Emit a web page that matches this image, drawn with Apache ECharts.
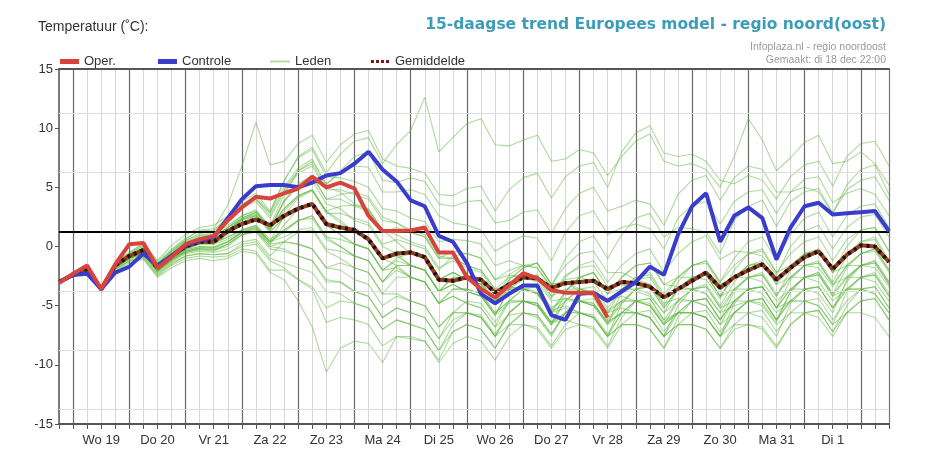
<!DOCTYPE html>
<html><head><meta charset="utf-8">
<script src="https://cdn.jsdelivr.net/npm/echarts@6/dist/echarts.min.js"></script>
<style>html,body{margin:0;padding:0;background:#fff}#c{width:925px;height:473px}</style>
</head><body><div id="c"></div>
<script>
// ---- time axis ----
const dayNames = ['Di 18','Wo 19','Do 20','Vr 21','Za 22','Zo 23','Ma 24','Di 25','Wo 26','Do 27','Vr 28','Za 29','Zo 30','Ma 31','Di 1','Wo 2'];
const hours = ['00:00','06:00','12:00','18:00'];
const tickLabels = ['Wo 19','Do 20','Vr 21','Za 22','Zo 23','Ma 24','Di 25','Wo 26','Do 27','Vr 28','Za 29','Zo 30','Ma 31','Di 1'];
const yTicks = [-15,-10,-5,0,5,10,15];
const baseLevel = 1.25;
const gridLevels = [11.25, 6.25, -3.75, -8.75, -13.75];

// ---- series values (6-hourly) ----
const oper = [-3.1,-2.3,-1.6,-3.6,-1.5,0.2,0.3,-1.8,-0.9,0.2, 0.6,0.9,2.2,3.3,4.2,4.05,4.5,4.9,5.9,5.0,
  5.4,4.9,2.6,1.3,1.3,1.35,1.6,-0.5,-0.5,-2.6, -3.6,-4.3,-3.3,-2.25,-2.7,-3.7,-3.9,-3.9,-3.9,-6.0];
const controle = [-3.0,-2.4,-2.3,-3.6,-2.2,-1.7,-0.6,-1.6,-0.8,0.1, 0.5,0.8,2.4,4.0,5.1,5.2,5.2,5.0,5.4,6.0,
  6.2,7.0,8.0,6.5,5.5,3.9,3.4,0.9,0.4,-1.4, -4.0,-4.8,-4.0,-3.3,-3.3,-5.8,-6.2,-4.0,-3.9,-4.6,
  -3.8,-3.0,-1.7,-2.4,1.0,3.4,4.5,0.4,2.6,3.3, 2.4,-1.1,1.6,3.4,3.7,2.7,2.8,2.9,3.0,1.3];
const gemiddelde = [-3.0,-2.4,-1.9,-3.6,-1.6,-0.8,-0.3,-1.8,-0.8,0.0, 0.4,0.4,1.3,1.9,2.3,1.8,2.6,3.2,3.6,1.9,
  1.6,1.4,0.6,-1.0,-0.6,-0.5,-0.9,-2.8,-2.9,-2.6, -2.8,-3.9,-3.2,-2.6,-2.7,-3.5,-3.1,-3.0,-2.9,-3.6,
  -3.0,-3.1,-3.4,-4.3,-3.6,-2.9,-2.2,-3.5,-2.6,-2.0, -1.5,-2.8,-1.8,-0.9,-0.4,-1.9,-0.7,0.1,0.0,-1.3];
const leden = [
 [-3.1,-2.3,-1.7,-3.5,-1.4,-0.5,0.3,-1.2,0.1,1.0,1.6,1.8, 2.6,3.8,4.5,3.0, 5.5,7.6,8.4,6.2, 7.8,8.9,9.2,7.0, 8.6,9.8,12.6,8.0, 9.2,10.4,10.8,8.6, 8.5,9.0,9.4,7.2, 7.4,8.2,7.9,6.0, 7.6,8.9,9.5,7.2, 6.8,7.0,6.5,5.0, 7.6,10.8,9.0,6.4, 7.5,8.8,9.4,7.0, 7.2,8.0,7.0,5.2],
 [-2.9,-2.5,-2.0,-3.7,-1.7,-0.9,-0.1,-1.5,-0.3,0.6,1.4,1.5, 3.5,6.8,10.5,6.9, 7.2,8.7,9.4,7.1, 8.6,9.5,9.8,7.4, 6.8,6.6,6.2,4.4, 4.3,4.9,5.1,3.0, 4.8,5.8,6.2,4.1, 5.9,6.8,7.1,5.0, 8.0,9.6,10.2,7.9, 7.6,7.8,7.2,5.6, 5.3,6.0,5.6,4.0, 5.9,6.9,7.2,5.1, 7.6,8.7,8.9,6.8],
 [-3.0,-2.4,-1.8,-3.5,-1.5,-0.6,0.1,-1.4,-0.4,0.5,1.1,1.3, 2.5,3.6,4.2,2.9, 5.0,6.6,7.4,5.2, 6.4,7.6,8.0,5.6, 5.4,5.8,5.5,3.6, 3.4,3.8,3.9,2.0, 2.2,2.9,3.1,1.1, 3.2,4.5,5.0,3.0, 3.4,3.9,3.6,1.8, 4.4,5.6,6.0,3.9, 5.8,6.8,6.5,4.6, 4.6,5.0,4.6,2.8, 4.8,5.6,5.9,3.9],
 [-3.1,-2.5,-2.0,-3.8,-1.8,-1.0,-0.5,-1.9,-0.9,0.1,0.6,0.7, 1.6,2.6,3.1,1.7, 4.4,6.4,7.2,5.3, 6.2,6.8,6.7,4.6, 4.6,4.8,4.4,2.6, 2.0,1.8,1.4,-0.4, 0.3,0.9,0.7,-1.2, 1.2,2.6,3.0,1.0, 1.6,1.9,1.5,-0.2, 2.4,3.5,3.8,1.9, 3.8,4.6,4.8,2.8, 4.6,5.7,5.9,3.7, 4.5,4.9,4.4,2.6],
 [-2.9,-2.3,-1.8,-3.6,-1.5,-0.7,-0.2,-1.6,-0.6,0.3,0.8,0.9, 2.2,3.4,4.0,2.8, 5.6,7.5,8.2,5.9, 5.8,5.5,5.0,3.2, 3.0,2.4,2.1,0.4, 0.6,0.5,0.2,-1.6, -1.2,-1.6,-1.8,-3.4, -1.0,0.4,0.9,-1.0, 1.0,2.4,2.8,0.8, 1.6,1.5,1.2,-0.6, 2.2,3.4,3.9,1.7, 3.8,4.6,4.9,2.8, 5.2,6.5,6.9,4.4],
 [-3.0,-2.4,-1.9,-3.6,-1.6,-0.7,-0.1,-1.6,-0.6,0.2,0.7,0.8, 1.6,2.4,2.9,1.5, 3.9,5.2,5.9,4.0, 4.4,4.6,4.2,2.5, 2.0,1.4,1.0,-0.8, -1.0,-1.6,-2.0,-3.6, -2.6,-2.4,-2.7,-4.4, -2.6,-1.6,-1.2,-3.0, -1.6,-0.6,-0.2,-2.2, -0.6,0.4,0.9,-1.1, -0.4,-0.5,-0.8,-2.4, 0.0,1.3,1.8,-0.2, 1.6,2.5,2.7,0.8],
 [-3.1,-2.4,-2.0,-3.7,-1.7,-0.9,-0.4,-1.9,-0.9,-0.1,0.3,0.4, 1.3,2.3,2.8,1.6, 3.2,4.3,4.8,3.0, 3.4,3.5,3.1,1.4, 1.0,0.4,0.0,-1.8, -1.2,-1.8,-2.2,-3.8, -3.4,-3.6,-3.9,-5.4, -3.8,-2.6,-2.2,-4.0, -2.6,-1.6,-1.4,-3.2, -2.6,-2.6,-2.8,-4.4, -2.0,-0.6,-0.2,-2.2, -0.6,0.4,0.8,-1.2, 0.6,1.4,1.6,-0.4],
 [-3.0,-2.3,-1.8,-3.5,-1.4,-0.5,0.2,-1.3,-0.2,0.7,1.3,1.4, 2.4,3.5,4.0,2.6, 4.8,6.4,7.0,5.0, 4.6,3.6,3.2,1.4, 0.4,-0.6,-1.0,-2.8, -2.2,-2.8,-3.2,-4.8, -2.8,-1.8,-1.4,-3.2, -3.0,-3.8,-4.2,-5.6, -3.6,-2.8,-2.6,-4.4, -2.6,-1.6,-1.2,-3.0, -1.0,0.4,0.8,-1.2, 1.0,2.4,2.9,0.8, 2.6,3.4,3.6,1.6],
 [-3.0,-2.4,-1.9,-3.6,-1.6,-0.8,-0.3,-1.7,-0.7,0.1,0.5,0.6, 1.4,2.3,2.6,1.4, 3.8,5.1,5.6,3.6, 3.2,2.2,1.8,0.0, -0.6,-1.6,-2.0,-3.8, -3.2,-3.8,-4.2,-5.8, -3.6,-2.8,-2.4,-4.2, -2.4,-1.8,-1.6,-3.4, -3.2,-3.8,-4.2,-5.6, -3.6,-2.6,-2.4,-4.2, -2.6,-1.6,-1.4,-3.2, -1.6,-0.6,-0.4,-2.2, -0.6,0.4,0.6,-1.4],
 [-2.9,-2.4,-1.9,-3.6,-1.6,-0.8,-0.4,-1.9,-0.9,-0.2,0.2,0.3, 0.8,1.4,1.7,0.4, 2.6,4.1,4.7,2.8, 2.8,2.4,2.0,0.2, 0.6,0.2,-0.2,-2.0, -0.8,-0.6,-1.0,-2.8, -2.0,-1.6,-1.8,-3.6, -2.8,-2.6,-3.0,-4.6, -4.2,-4.6,-5.0,-6.6, -4.6,-3.6,-3.4,-5.2, -3.6,-2.6,-2.4,-4.2, -2.0,-0.6,-0.2,-2.2, 0.0,1.4,1.6,-0.4],
 [-3.0,-2.5,-2.0,-3.7,-1.6,-0.8,-0.2,-1.6,-0.5,0.4,0.9,1.0, 1.8,2.6,3.0,1.6, 3.8,5.3,6.0,4.0, 4.0,3.4,3.0,1.2, 1.6,1.2,0.8,-1.0, -0.4,-0.6,-1.0,-2.8, -2.4,-2.6,-3.0,-4.6, -4.4,-4.6,-5.0,-6.4, -4.8,-3.6,-3.2,-5.0, -3.0,-1.6,-1.2,-3.0, -1.6,-0.6,-0.4,-2.2, -1.6,-1.6,-1.8,-3.4, -1.6,-0.6,-0.2,-2.0],
 [-3.1,-2.4,-1.8,-3.6,-1.5,-0.6,0.0,-1.5,-0.4,0.5,1.0,1.1, 2.2,3.3,3.8,2.4, 4.6,6.2,6.8,4.8, 4.8,4.4,4.0,2.2, 2.0,1.2,0.8,-1.0, -1.0,-1.6,-2.0,-3.6, -3.4,-3.6,-4.0,-5.6, -3.8,-2.6,-2.2,-4.0, -2.6,-1.6,-1.4,-3.2, -3.4,-3.6,-4.0,-5.6, -5.0,-4.6,-4.8,-6.4, -3.8,-2.6,-2.2,-4.0, -1.8,-0.6,-0.2,-2.0],
 [-3.0,-2.4,-1.9,-3.6,-1.6,-0.9,-0.5,-2.0,-1.0,-0.2,0.2,0.2, 1.0,2.0,2.6,1.4, 3.0,4.2,4.8,2.9, 2.0,1.2,0.8,-1.0, -0.4,-0.6,-1.0,-2.8, -2.2,-2.8,-3.2,-4.8, -2.8,-1.8,-1.4,-3.2, -1.6,-0.6,-0.4,-2.2, -2.2,-2.8,-3.2,-4.8, -4.4,-4.6,-5.0,-6.6, -4.6,-3.6,-3.4,-5.2, -2.8,-1.6,-1.2,-3.0, -0.8,0.4,0.8,-1.2],
 [-3.0,-2.4,-2.0,-3.7,-1.7,-1.0,-0.6,-2.1,-1.1,-0.4,-0.1,-0.1, 0.4,1.2,1.5,0.2, 1.8,3.2,3.6,1.8, 1.8,1.2,0.8,-1.0, -0.8,-1.6,-2.0,-3.8, -3.2,-3.8,-4.2,-5.8, -4.8,-4.6,-5.0,-6.6, -4.6,-3.6,-3.4,-5.2, -3.6,-2.6,-2.4,-4.2, -3.6,-3.6,-4.0,-5.6, -3.6,-2.6,-2.4,-4.2, -2.6,-1.6,-1.4,-3.2, -1.6,-0.6,-0.4,-2.2],
 [-2.9,-2.3,-1.9,-3.6,-1.6,-0.8,-0.3,-1.8,-0.8,0.0,0.4,0.5, 1.2,2.2,2.6,1.2, 2.4,3.2,3.6,1.8, 1.0,0.2,-0.2,-2.0, -1.8,-2.6,-3.0,-4.8, -4.2,-4.8,-5.2,-6.8, -4.6,-3.6,-3.4,-5.2, -4.4,-4.6,-5.0,-6.6, -5.6,-5.6,-6.0,-7.6, -5.0,-3.6,-3.2,-5.0, -3.0,-1.6,-1.2,-3.0, -1.6,-0.6,-0.4,-2.2, -1.6,-1.6,-1.8,-3.4],
 [-3.0,-2.4,-1.9,-3.7,-1.7,-0.9,-0.5,-1.9,-0.9,-0.1,0.3,0.3, 0.8,1.4,1.8,0.6, 1.4,2.2,2.6,0.8, 0.6,0.2,-0.2,-2.0, -1.2,-1.6,-2.0,-3.8, -2.6,-2.6,-3.0,-4.6, -3.6,-3.6,-4.0,-5.6, -5.2,-5.6,-6.0,-7.6, -5.6,-4.6,-4.4,-6.2, -5.6,-5.6,-6.0,-7.6, -4.8,-3.6,-3.4,-5.2, -3.6,-2.6,-2.4,-4.2, -2.6,-1.6,-1.4,-3.2],
 [-3.1,-2.5,-2.0,-3.6,-1.5,-0.7,-0.1,-1.6,-0.6,0.3,0.8,0.8, 1.6,2.4,2.9,1.5, 3.2,4.3,4.8,3.0, 2.2,1.2,0.8,-1.0, -1.6,-2.6,-3.0,-4.8, -4.2,-4.8,-5.2,-6.8, -5.8,-5.6,-6.0,-7.6, -5.6,-4.6,-4.4,-6.2, -4.6,-3.6,-3.4,-5.2, -3.6,-2.6,-2.4,-4.2, -3.6,-3.6,-4.0,-5.6, -4.6,-4.6,-5.0,-6.6, -3.8,-2.6,-2.2,-4.0],
 [-3.0,-2.4,-1.9,-3.6,-1.7,-1.0,-0.6,-2.1,-1.2,-0.5,-0.3,-0.4, 0.2,1.2,1.6,0.4, 0.8,1.4,1.6,-0.2, -0.4,-0.8,-1.2,-3.0, -1.6,-1.6,-2.0,-3.8, -3.2,-3.8,-4.2,-5.8, -3.6,-2.6,-2.4,-4.2, -3.6,-3.6,-4.0,-5.6, -4.6,-4.6,-5.0,-6.6, -5.6,-5.6,-6.0,-7.6, -5.6,-4.6,-4.4,-6.2, -3.8,-2.6,-2.2,-4.0, -2.6,-1.6,-1.4,-3.2],
 [-3.0,-2.4,-1.9,-3.6,-1.6,-0.9,-0.4,-1.9,-0.9,-0.1,0.3,0.2, 0.6,1.4,1.8,0.4, 1.4,2.2,2.4,0.6, 0.0,-0.8,-1.2,-3.0, -2.0,-2.6,-3.0,-4.8, -3.6,-3.6,-4.0,-5.6, -4.6,-4.6,-5.0,-6.6, -3.8,-2.6,-2.2,-4.0, -3.6,-3.6,-4.0,-5.6, -4.6,-4.6,-5.0,-6.6, -5.6,-5.6,-6.0,-7.6, -4.8,-3.6,-3.4,-5.2, -3.6,-2.6,-2.4,-4.2],
 [-2.9,-2.3,-1.8,-3.5,-1.5,-0.7,-0.2,-1.7,-0.7,0.2,0.6,0.6, 1.4,2.3,2.7,1.3, 2.4,3.2,3.6,1.8, 1.0,0.2,-0.2,-2.0, -1.0,-0.6,-1.0,-2.8, -2.2,-2.8,-3.2,-4.8, -3.6,-3.6,-4.0,-5.6, -4.6,-4.6,-5.0,-6.6, -3.8,-2.6,-2.2,-4.0, -2.6,-1.6,-1.4,-3.2, -2.6,-2.6,-3.0,-4.6, -3.6,-3.6,-4.0,-5.6, -2.8,-1.6,-1.2,-3.0],
 [-3.0,-2.4,-2.0,-3.7,-1.7,-1.0,-0.5,-2.0,-1.0,-0.3,0.0,0.0, 0.4,1.3,1.6,0.4, 1.2,2.2,2.6,0.8, 0.0,-0.8,-1.2,-3.0, -1.6,-1.6,-2.0,-3.8, -2.6,-2.6,-3.0,-4.6, -2.4,-1.6,-1.4,-3.2, -3.0,-3.6,-4.0,-5.6, -5.2,-5.6,-6.0,-7.6, -5.6,-4.6,-4.4,-6.2, -3.8,-2.6,-2.2,-4.0, -2.6,-1.6,-1.4,-3.2, -2.6,-2.6,-3.0,-4.6],
 [-3.0,-2.5,-2.0,-3.8,-1.8,-1.1,-0.7,-2.2,-1.3,-0.6,-0.4,-0.5, -0.2,0.4,0.6,-0.8, 0.4,1.2,1.4,-0.4, -1.0,-1.8,-2.2,-4.0, -2.6,-2.6,-3.0,-4.8, -3.6,-3.6,-4.0,-5.6, -4.6,-4.6,-5.0,-6.6, -5.6,-5.6,-6.0,-7.6, -4.8,-3.6,-3.4,-5.2, -3.6,-2.6,-2.4,-4.2, -2.6,-1.6,-1.4,-3.2, -2.6,-2.6,-3.0,-4.6, -3.6,-3.6,-4.0,-5.6],
 [-3.0,-2.4,-1.9,-3.6,-1.7,-0.9,-0.5,-2.0,-1.1,-0.4,-0.2,-0.3, 0.0,1.0,1.2,-0.2, -0.4,-0.8,-1.2,-2.8, -3.0,-3.8,-4.2,-6.0, -5.2,-5.6,-6.0,-7.8, -6.2,-5.6,-6.0,-7.6, -5.6,-4.6,-4.8,-6.4, -5.6,-5.6,-6.0,-7.6, -6.6,-6.6,-7.0,-8.6, -6.6,-5.6,-5.4,-7.2, -5.6,-4.6,-4.4,-6.2, -4.6,-3.6,-3.4,-5.2, -3.6,-2.6,-2.4,-4.2],
 [-3.0,-2.5,-2.1,-3.8,-1.9,-1.2,-0.8,-2.3,-1.4,-0.8,-0.6,-0.7, -0.6,0.2,0.4,-1.0, -1.4,-1.8,-2.2,-3.8, -4.0,-4.8,-5.2,-7.0, -6.2,-6.6,-7.0,-8.8, -7.2,-6.6,-7.0,-8.6, -6.6,-5.6,-5.8,-7.4, -5.6,-4.6,-4.8,-6.4, -5.6,-5.6,-6.0,-7.6, -6.6,-6.6,-7.0,-8.6, -6.6,-5.6,-5.4,-7.2, -5.6,-4.6,-4.4,-6.2, -4.6,-3.6,-3.4,-5.2],
 [-3.1,-2.4,-2.0,-3.7,-1.8,-1.0,-0.6,-2.1,-1.2,-0.5,-0.2,-0.3, 0.2,1.0,1.3,0.0, 0.4,0.2,-0.2,-1.8, -2.0,-2.8,-3.2,-5.0, -4.2,-4.6,-5.0,-6.8, -5.6,-5.6,-6.0,-7.6, -6.6,-6.6,-7.0,-8.6, -7.0,-6.6,-6.8,-8.4, -6.0,-4.6,-4.4,-6.2, -4.6,-3.6,-3.4,-5.2, -4.6,-4.6,-5.0,-6.6, -5.6,-5.6,-6.0,-7.6, -5.6,-4.6,-4.4,-6.2],
 [-3.0,-2.5,-2.1,-3.9,-2.0,-1.4,-1.1,-2.6,-1.8,-1.2,-1.0,-1.2, -1.0,-0.4,-0.6,-2.2, -2.8,-4.6,-6.8,-10.6, -8.6,-8.0,-8.2,-9.8, -7.6,-7.6,-8.0,-9.6, -7.2,-6.6,-7.0,-8.6, -6.6,-5.6,-5.8,-7.4, -5.6,-4.6,-4.8,-6.4, -5.6,-5.6,-6.0,-7.6, -6.6,-6.6,-7.0,-8.6, -7.0,-6.6,-6.8,-8.4, -6.6,-5.6,-5.4,-7.2, -5.6,-4.6,-4.4,-6.2],
 [-3.0,-2.4,-1.9,-3.6,-1.7,-1.0,-0.6,-2.1,-1.1,-0.4,-0.1,-0.2, 0.2,1.0,1.4,0.0, -0.2,-0.8,-1.2,-3.0, -3.0,-3.8,-4.2,-6.0, -5.2,-5.6,-6.0,-7.8, -5.6,-4.6,-4.8,-6.4, -4.6,-3.6,-3.8,-5.4, -5.0,-5.6,-6.0,-7.6, -6.6,-6.6,-7.0,-8.6, -6.0,-4.6,-4.4,-6.2, -4.6,-3.6,-3.4,-5.2, -3.6,-2.6,-2.4,-4.2, -3.6,-3.6,-4.0,-5.6],
 [-3.0,-2.5,-2.0,-3.8,-1.9,-1.3,-1.0,-2.5,-1.6,-1.0,-0.8,-0.9, -0.8,-0.2,-0.4,-2.0, -2.0,-2.8,-3.6,-6.4, -6.0,-6.2,-6.6,-8.4, -7.6,-7.8,-8.0,-9.8, -8.2,-7.6,-8.0,-9.6, -7.6,-6.6,-6.8,-8.4, -6.6,-5.6,-5.8,-7.4, -5.6,-4.6,-4.8,-6.4, -5.6,-5.6,-6.0,-7.6, -6.6,-6.6,-7.0,-8.6, -6.6,-5.6,-5.4,-7.2, -5.0,-3.6,-3.4,-5.2],
 [-3.0,-2.4,-1.9,-3.6,-1.6,-0.9,-0.5,-2.0,-1.0,-0.3,0.0,-0.1, 0.4,1.2,1.5,0.2, 0.4,0.2,-0.2,-1.8, -1.4,-1.8,-2.2,-4.0, -4.0,-4.6,-5.0,-6.8, -5.6,-5.6,-6.0,-7.6, -5.6,-4.6,-4.8,-6.4, -4.6,-3.6,-3.8,-5.4, -4.6,-4.6,-5.0,-6.6, -5.6,-5.6,-6.0,-7.6, -5.6,-4.6,-4.4,-6.2, -4.6,-3.6,-3.4,-5.2, -3.0,-1.6,-1.2,-3.0],
 [-3.1,-2.5,-2.1,-3.8,-1.9,-1.2,-0.9,-2.4,-1.5,-0.8,-0.6,-0.7, -0.6,0.0,0.2,-1.2, -1.8,-2.8,-3.4,-5.2, -4.6,-4.8,-5.2,-7.0, -6.2,-6.6,-7.0,-8.8, -6.6,-5.6,-5.8,-7.4, -5.6,-4.6,-4.8,-6.4, -6.2,-6.6,-7.0,-8.6, -6.6,-5.6,-5.4,-7.2, -5.6,-4.6,-4.4,-6.2, -4.6,-3.6,-3.4,-5.2, -4.6,-4.6,-5.0,-6.6, -5.6,-5.6,-6.0,-7.6]
];

// ---- build categories from day names ----
const categories = ['Di 18 18:00'];
for (let d = 1; d < dayNames.length && categories.length < gemiddelde.length; d++) {
  for (const h of hours) { if (categories.length < gemiddelde.length) categories.push(dayNames[d] + ' ' + h); }
}

const chart = echarts.init(document.getElementById('c'), null, {renderer: 'canvas'});
const txt = '#333';
const memberColor = 'rgba(92,184,60,0.5)';

const series = [];
series.push({
  name: 'grid', type: 'line', data: [], silent: true, z: 1,
  markLine: { silent: true, symbol: 'none', label: {show: false},
    lineStyle: {color: '#dedede', width: 1, type: 'solid'},
    data: gridLevels.map(v => ({yAxis: v})) }
});
leden.forEach(arr => series.push({
  name: 'Leden', type: 'line', data: arr, symbol: 'none', silent: true, z: 2,
  lineStyle: {color: memberColor, width: 1.1}, itemStyle: {color: memberColor}
}));
series.push({
  name: 'base', type: 'line', data: [], silent: true, z: 3,
  markLine: { silent: true, symbol: 'none', label: {show: false},
    lineStyle: {color: '#000', width: 2, type: 'solid'},
    data: [{yAxis: baseLevel}] }
});
series.push({
  name: 'Gemiddelde', type: 'line', data: gemiddelde, symbol: 'none', silent: true, z: 4,
  lineStyle: {color: '#9a3a1c', width: 4}, itemStyle: {color: '#7a1a12'}
});
series.push({
  name: 'gemOverlay', type: 'line', data: gemiddelde, symbol: 'none', silent: true, z: 5,
  lineStyle: {color: '#151515', width: 4, type: [3, 4]}
});
series.push({
  name: 'Controle', type: 'line', data: controle, symbol: 'none', silent: true, z: 6,
  lineStyle: {color: '#3a3ccc', width: 4}, itemStyle: {color: '#3a3ccc'}
});
series.push({
  name: 'Oper.', type: 'line', data: oper, symbol: 'none', silent: true, z: 7,
  lineStyle: {color: '#d8443c', width: 4}, itemStyle: {color: '#d8443c'}
});

const legendBase = {top: 50, itemGap: 6, textStyle: {color: txt, fontSize: 13, fontFamily: 'Liberation Sans'}, selectedMode: false};
const option = {
  animation: false,
  backgroundColor: '#fff',
  title: [
    {text: 'Temperatuur (˚C):', left: 33, top: 15, textStyle: {color: '#333', fontSize: 14, fontWeight: 'normal', fontFamily: 'Liberation Sans'}},
    {text: '15-daagse trend Europees model - regio noord(oost)', right: 34, top: 12, textStyle: {color: '#3d9db8', fontSize: 15.5, fontWeight: 'bold', fontFamily: 'DejaVu Sans'}},
    {text: 'Infoplaza.nl - regio noordoost', right: 34, top: 37, textStyle: {color: '#9a9a9a', fontSize: 10.5, fontWeight: 'normal', fontFamily: 'Liberation Sans'}},
    {text: 'Gemaakt: di 18 dec 22:00', right: 34, top: 50, textStyle: {color: '#9a9a9a', fontSize: 10.5, fontWeight: 'normal', fontFamily: 'Liberation Sans'}}
  ],
  legend: [
    Object.assign({left: 55, itemWidth: 19, itemHeight: 5, data: [{name: 'Oper.', icon: 'rect'}]}, legendBase),
    Object.assign({left: 153, itemWidth: 19, itemHeight: 5, data: [{name: 'Controle', icon: 'rect'}]}, legendBase),
    Object.assign({left: 265, itemWidth: 20, itemHeight: 2, data: [{name: 'Leden', icon: 'rect', itemStyle: {color: 'rgba(150,205,120,0.7)'}}]}, legendBase),
    Object.assign({left: 366, itemWidth: 20, itemHeight: 3, data: [{name: 'Gemiddelde', icon: 'path://M0,0h3v3h-3zM5,0h3v3h-3zM10,0h3v3h-3zM15,0h3v3h-3z', itemStyle: {color: '#7a1a12'}}]}, legendBase)
  ],
  grid: {left: 59, right: 36, top: 69, bottom: 49, containLabel: false},
  xAxis: [
    { type: 'category', data: categories, boundaryGap: false, position: 'bottom',
      axisLine: {show: true, onZero: false, lineStyle: {color: '#555', width: 2}},
      axisTick: {show: true, interval: 0, length: 5, lineStyle: {color: '#555', width: 1}},
      axisLabel: {interval: (i, v) => tickLabels.includes(v.replace(/ \d\d:\d\d$/, '')) && v.endsWith('12:00'),
        formatter: v => v.replace(/ \d\d:\d\d$/, ''), color: txt, fontSize: 13, margin: 10, fontFamily: 'Liberation Sans'},
      splitLine: {show: true, interval: 0, lineStyle: {color: '#d6d6d6', width: 1}} },
    { type: 'category', data: categories, boundaryGap: false, position: 'top',
      axisLine: {show: true, onZero: false, lineStyle: {color: '#555', width: 2}},
      axisTick: {show: false}, axisLabel: {show: false},
      splitLine: {show: true, interval: (i) => i % 4 === 1, lineStyle: {color: '#6a6a6a', width: 1.2}} }
  ],
  yAxis: [
    { type: 'value', min: yTicks[0], max: yTicks[yTicks.length - 1], interval: 5, position: 'left',
      axisLine: {show: true, onZero: false, lineStyle: {color: '#555', width: 1.5}},
      axisTick: {show: true, length: 4, lineStyle: {color: '#555'}},
      axisLabel: {color: txt, fontSize: 13, margin: 6, fontFamily: 'Liberation Sans'},
      splitLine: {show: false} },
    { type: 'value', min: yTicks[0], max: yTicks[yTicks.length - 1], interval: 5, position: 'right',
      axisLine: {show: true, onZero: false, lineStyle: {color: '#777', width: 1.2}},
      axisTick: {show: false}, axisLabel: {show: false}, splitLine: {show: false} }
  ],
  series: series
};
chart.setOption(option);
</script>
</body></html>
